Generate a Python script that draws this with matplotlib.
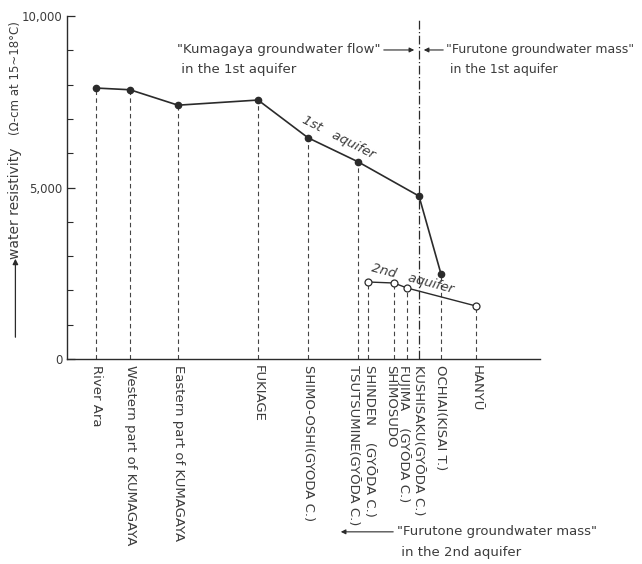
import numpy as np
import matplotlib
matplotlib.use("Agg")
import matplotlib.pyplot as plt
from matplotlib.transforms import ScaledTranslation

# sampling sites along the section, distance from the left edge of the section
sites = ["River Ara", "Western part of KUMAGAYA", "Eastern part of KUMAGAYA", "FUKIAGE",
         "SHIMO-OSHI(GYODA C.)", "TSUTSUMINE(GYŌDA C.)", "SHINDEN    (GYŌDA C.)", "SHIMOSUDO",
         "FUJIMA    (GYŌDA C.)", "KUSHISAKU(GYŌDA C.)", "OCHIAI(KISAI T.)", "HANYŪ"]
site_dist = [2.9, 6.3, 11.1, 19.1, 24.1, 29.1, 30.1, 32.7, 34.0, 35.2, 37.4, 40.9]

# water resistivity (ohm-cm at 15~18 C), nan where the aquifer was not sampled
res_1st = [7900, 7850, 7400, 7550, 6450, 5750, np.nan, np.nan, np.nan, 4750, 2480, np.nan]
res_2nd = [np.nan, np.nan, np.nan, np.nan, np.nan, np.nan, 2245, 2215, 2070, np.nan, np.nan, 1545]

boundary_site = "KUSHISAKU(GYŌDA C.)"

ink = "#2b2b2b"
txt = "#3c3c3c"

fig = plt.figure(figsize=(6.42, 5.64), dpi=100)
ax = fig.add_axes([0.1044, 0.3635, 0.7367, 0.6081])

x = np.array(site_dist)
r1 = np.array(res_1st, dtype=float)
r2 = np.array(res_2nd, dtype=float)

# dashed drop lines from each point down to the axis
for xi, a, b, name in zip(x, r1, r2, sites):
    if name == boundary_site:
        ax.plot([xi, xi], [0, 9880], color=ink, lw=0.9, ls=(0, (7, 2, 1, 2)))
        continue
    top = np.nanmax([a, b])
    ax.plot([xi, xi], [0, top], color="#444444", lw=0.8, ls=(0, (4, 3)))

m1 = ~np.isnan(r1)
m2 = ~np.isnan(r2)
ax.plot(x[m1], r1[m1], color=ink, lw=1.2, marker="o", ms=4.5, mfc=ink, mec=ink, zorder=3)
ax.plot(x[m2], r2[m2], color=ink, lw=1.0, marker="o", ms=5, mfc="white", mec=ink, mew=0.9, zorder=3)

ax.text(27.2, 6470, "1st   aquifer", rotation=-27, ha="center", va="center",
        fontsize=9.5, color=txt, style="italic")
ax.text(34.6, 2330, "2nd   aquifer", rotation=-15, ha="center", va="center",
        fontsize=9.5, color=txt, style="italic")

ax.set_xlim(0, 47.3)
ax.set_ylim(0, 10000)
for s in ["top", "right"]:
    ax.spines[s].set_visible(False)
for s in ["left", "bottom"]:
    ax.spines[s].set_color(ink)
    ax.spines[s].set_linewidth(1.0)

ax.set_yticks([0, 5000, 10000], ["0", "5,000", "10,000"])
ax.set_yticks(np.arange(1000, 10000, 1000), minor=True)
ax.tick_params(axis="y", which="major", direction="in", length=6, width=0.9,
               color=ink, labelsize=8.5, labelcolor=txt, pad=3)
ax.tick_params(axis="y", which="minor", direction="in", length=4, width=0.8, color=ink)

ax.set_xticks(site_dist, sites, rotation=-90, ha="center", va="top")
ax.tick_params(axis="x", length=0, labelsize=9.5, labelcolor=txt, pad=4)

# nudge the crowded site names sideways (points) so they do not collide
nudge = {"TSUTSUMINE(GYŌDA C.)": -3.5, "SHINDEN    (GYŌDA C.)": 1.0,
         "SHIMOSUDO": -2.5, "FUJIMA    (GYŌDA C.)": -2.5}
for lab in ax.get_xticklabels():
    dx = nudge.get(lab.get_text(), 0)
    if dx:
        lab.set_transform(lab.get_transform() + ScaledTranslation(dx / 72, 0, fig.dpi_scale_trans))

# flow / groundwater mass annotations
arrow = dict(arrowstyle="-|>", color=ink, lw=0.8, mutation_scale=7)
ax.annotate("", xy=(35.0, 9010), xytext=(31.4, 9010), arrowprops=arrow, annotation_clip=False)
ax.annotate("", xy=(35.4, 9010), xytext=(37.9, 9010), arrowprops=arrow, annotation_clip=False)
ax.text(11.0, 9010, '"Kumagaya groundwater flow"', ha="left", va="center",
        fontsize=9.5, color=txt, clip_on=False)
ax.text(11.0, 8430, " in the 1st aquifer", ha="left", va="center",
        fontsize=9.5, color=txt, clip_on=False)
ax.text(37.9, 9010, '"Furutone groundwater mass"', ha="left", va="center",
        fontsize=9, color=txt, clip_on=False)
ax.text(37.9, 8430, " in the 1st aquifer", ha="left", va="center",
        fontsize=9, color=txt, clip_on=False)

ax.annotate("", xy=(27.1, -5040), xytext=(32.9, -5040), arrowprops=arrow, annotation_clip=False)
ax.text(33.0, -5040, '"Furutone groundwater mass"', ha="left", va="center",
        fontsize=9.5, color=txt, clip_on=False)
ax.text(33.0, -5630, " in the 2nd aquifer", ha="left", va="center",
        fontsize=9.5, color=txt, clip_on=False)

# y axis caption with upward arrow
fig.text(0.024, 0.64, "water resistivity", rotation=90, ha="center", va="center",
         fontsize=10, color=txt)
fig.text(0.024, 0.862, "(Ω-cm at 15~18°C)", rotation=90, ha="center", va="center",
         fontsize=8.5, color=txt)
fig.add_artist(matplotlib.patches.FancyArrowPatch(
    (0.024, 1 - 340 / 564), (0.024, 1 - 256 / 564), transform=fig.transFigure,
    arrowstyle="-|>", mutation_scale=8, color=ink, lw=0.9))

fig.savefig("out.png", dpi=100, facecolor="white")
